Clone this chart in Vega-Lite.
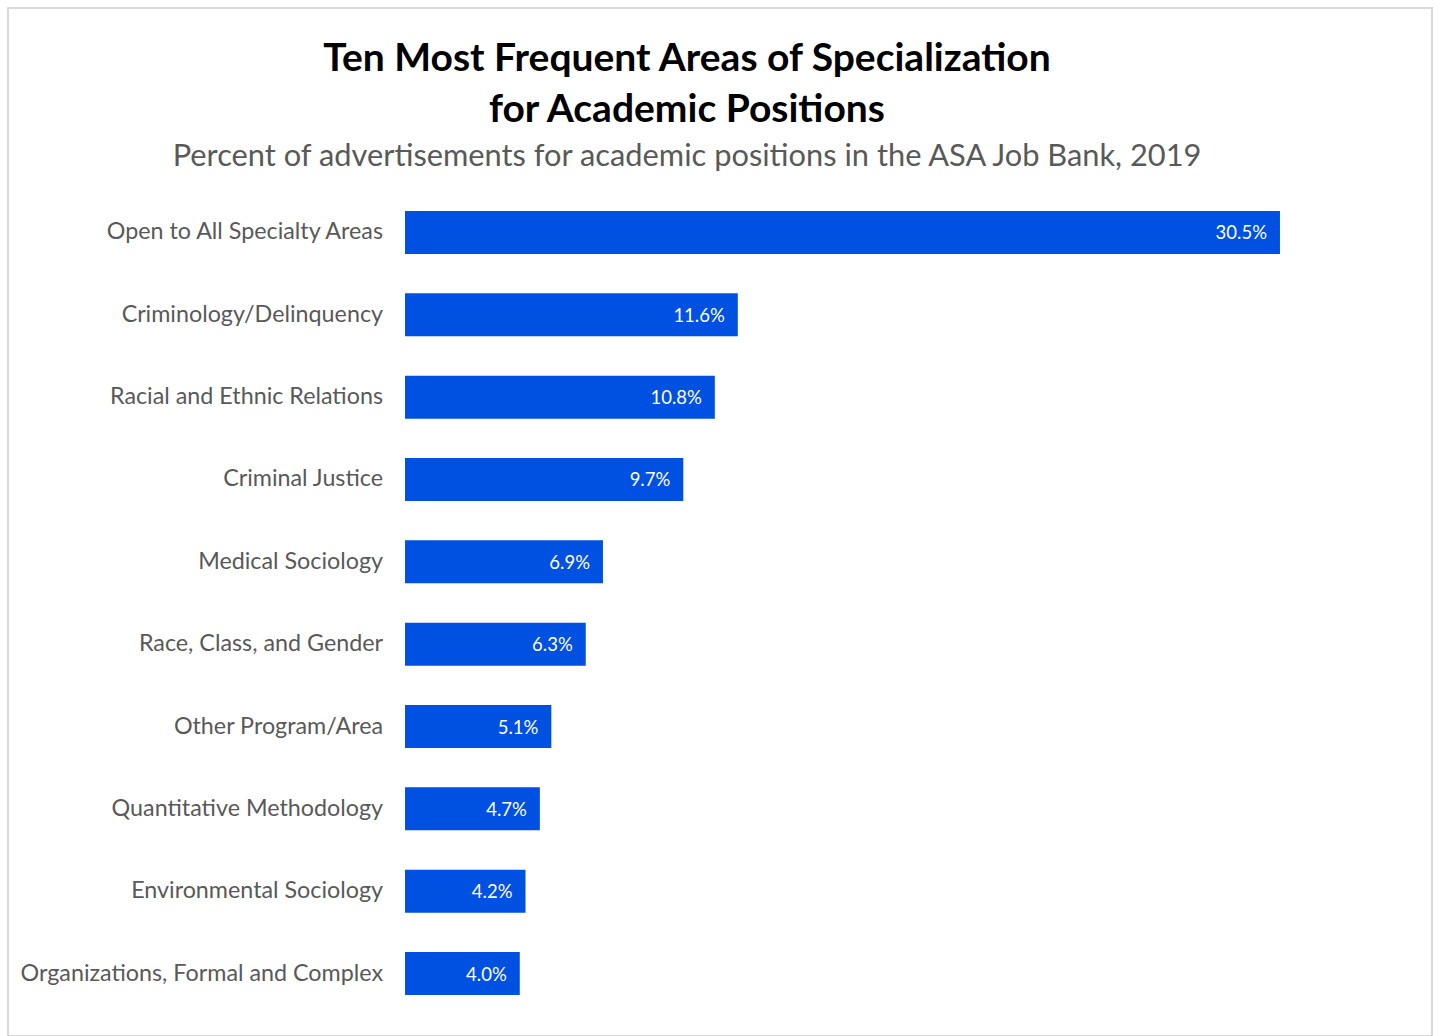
{
  "$schema": "https://vega.github.io/schema/vega-lite/v6.json",
  "width": 1439,
  "height": 1036,
  "autosize": {"type": "fit", "contains": "padding"},
  "padding": {"left": 8, "top": 8, "right": 7, "bottom": 0},
  "background": "white",
  "title": {
    "text": ["Ten Most Frequent Areas of Specialization", "for Academic Positions"],
    "subtitle": "Percent of advertisements for academic positions in the ASA Job Bank, 2019",
    "anchor": "middle",
    "frame": "group",
    "offset": -164,
    "dx": -33,
    "font": "Lato",
    "fontSize": 39,
    "fontWeight": "bold",
    "color": "#000000",
    "lineHeight": 51,
    "subtitleFont": "Lato",
    "subtitleFontSize": 30.8,
    "subtitleColor": "#595959",
    "subtitlePadding": 12
  },
  "data": {
    "values": [
      {"area": "Open to All Specialty Areas", "pct": 30.5, "label": "30.5%"},
      {"area": "Criminology/Delinquency", "pct": 11.6, "label": "11.6%"},
      {"area": "Racial and Ethnic Relations", "pct": 10.8, "label": "10.8%"},
      {"area": "Criminal Justice", "pct": 9.7, "label": "9.7%"},
      {"area": "Medical Sociology", "pct": 6.9, "label": "6.9%"},
      {"area": "Race, Class, and Gender", "pct": 6.3, "label": "6.3%"},
      {"area": "Other Program/Area", "pct": 5.1, "label": "5.1%"},
      {"area": "Quantitative Methodology", "pct": 4.7, "label": "4.7%"},
      {"area": "Environmental Sociology", "pct": 4.2, "label": "4.2%"},
      {"area": "Organizations, Formal and Complex", "pct": 4.0, "label": "4.0%"}
    ]
  },
  "encoding": {
    "y": {
      "field": "area",
      "type": "nominal",
      "sort": null,
      "axis": null,
      "scale": {"range": [203, 987], "paddingInner": 0.478, "paddingOuter": 0}
    }
  },
  "layer": [
    {
      "mark": {"type": "bar", "color": "#0050E1"},
      "encoding": {
        "x": {
          "field": "pct",
          "type": "quantitative",
          "axis": null,
          "scale": {"domain": [-13.84, 35.8], "nice": false, "zero": false}
        },
        "x2": {"datum": 0}
      }
    },
    {
      "mark": {"type": "text", "align": "right", "baseline": "middle", "dx": -13, "dy": 1, "color": "white", "font": "Lato", "fontSize": 18.5},
      "encoding": {
        "x": {"field": "pct", "type": "quantitative"},
        "text": {"field": "label", "type": "nominal"}
      }
    },
    {
      "mark": {"type": "text", "align": "right", "baseline": "middle", "dx": -22, "color": "#595959", "font": "Lato", "fontSize": 23.3},
      "encoding": {
        "x": {"datum": 0},
        "text": {"field": "area", "type": "nominal"}
      }
    }
  ],
  "config": {"view": {"stroke": "#d9d9d9", "strokeWidth": 2}}
}
